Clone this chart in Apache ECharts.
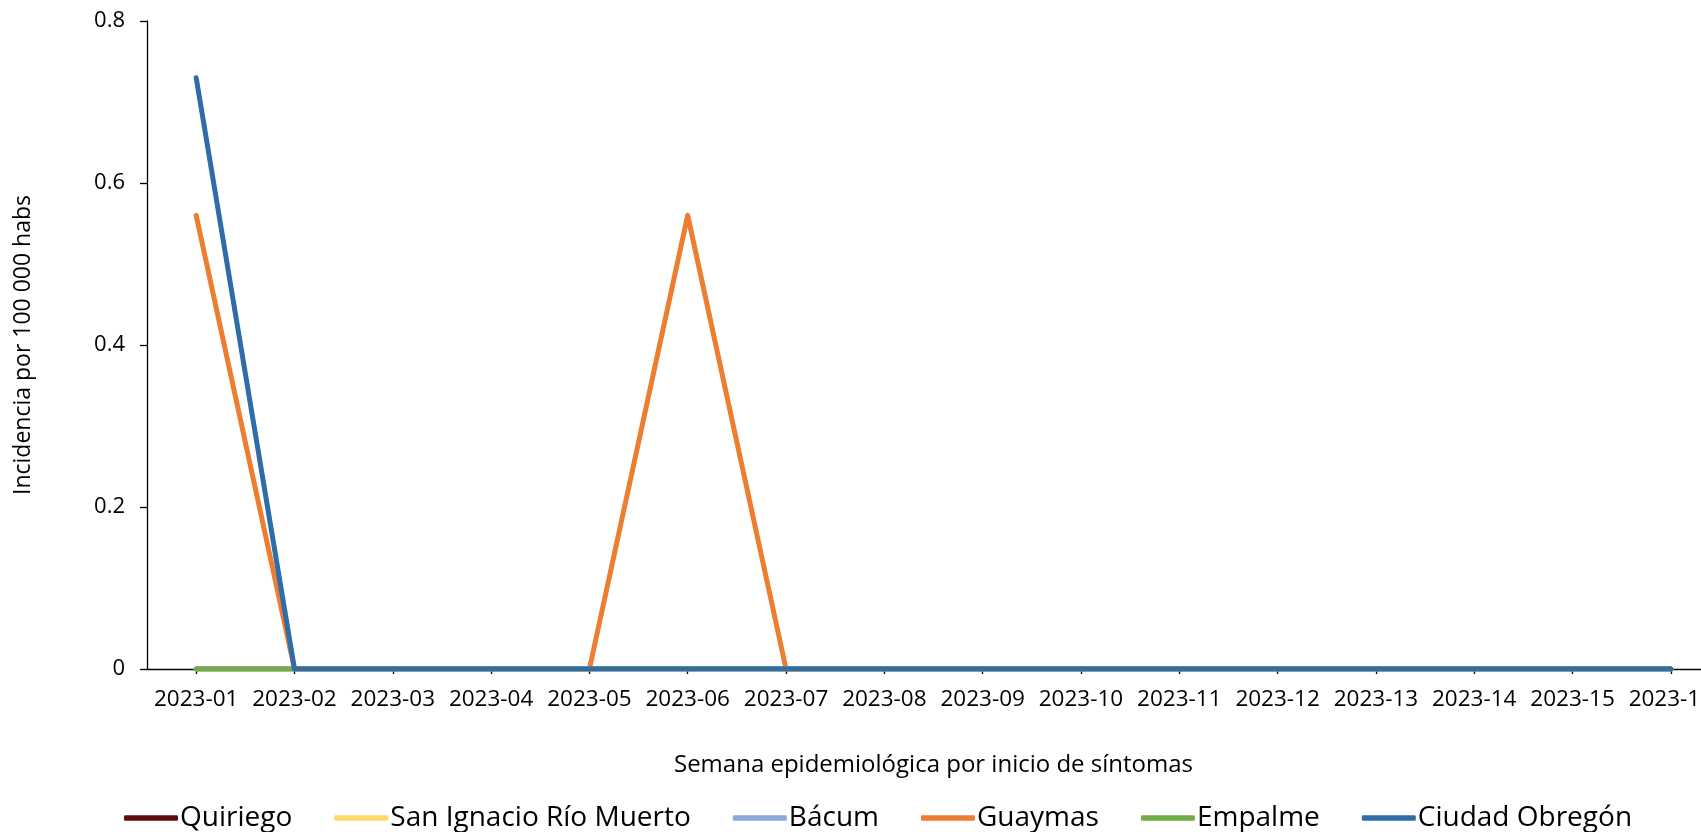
<!DOCTYPE html>
<html>
<head>
<meta charset="utf-8">
<script src="https://cdn.jsdelivr.net/npm/echarts@6/dist/echarts.min.js"></script>
<style>
  html, body { margin: 0; padding: 0; background: #fff; }
  #chart { width: 1701px; height: 832px; }
</style>
</head>
<body>
<div id="chart"></div>
<script>
// semanas epidemiológicas
const weeks = ['2023-01', '2023-02', '2023-03', '2023-04', '2023-05', '2023-06', '2023-07', '2023-08',
  '2023-09', '2023-10', '2023-11', '2023-12', '2023-13', '2023-14', '2023-15', '2023-16'];

// incidencia por municipio
const quiriego       = [0, 0, 0, 0, 0, 0, 0, 0, 0, 0, 0, 0, 0, 0, 0, 0];
const sanIgnacio     = [0, 0, 0, 0, 0, 0, 0, 0, 0, 0, 0, 0, 0, 0, 0, 0];
const bacum          = [0, 0, 0, 0, 0, 0, 0, 0, 0, 0, 0, 0, 0, 0, 0, 0];
const guaymas        = [0.56, 0, 0, 0, 0, 0.56, 0, 0, 0, 0, 0, 0, 0, 0, 0, 0];
const empalme        = [0, 0, 0, 0, 0, 0, 0, 0, 0, 0, 0, 0, 0, 0, 0, 0];
const ciudadObregon  = [0.73, 0, 0, 0, 0, 0, 0, 0, 0, 0, 0, 0, 0, 0, 0, 0];

const yTicks = [0, 0.2, 0.4, 0.6, 0.8];

const FONT = '"Open Sans", sans-serif';

const chart = echarts.init(document.getElementById('chart'));

const mkLine = (name, data, color) => ({
  name: name,
  type: 'line',
  data: data,
  symbol: 'none',
  showSymbol: false,
  smooth: false,
  lineStyle: { color: color, width: 5, cap: 'round', join: 'round' },
  itemStyle: { color: color },
  emphasis: { disabled: true }
});

chart.setOption({
  animation: false,
  textStyle: { fontFamily: FONT, color: '#000' },
  // el área de trazado sigue más allá del borde derecho (como en el original)
  grid: { left: 147, width: 1573, top: 21, bottom: 163, containLabel: false, outerBoundsMode: 'none' },
  legend: {
    left: 119,
    top: 799,
    icon: 'roundRect',
    itemWidth: 54,
    itemHeight: 5.5,
    itemGap: 42,
    textStyle: { fontFamily: FONT, fontSize: 28, color: '#000', padding: [0, 0, 0, -3] },
    data: ['Quiriego', 'San Ignacio Río Muerto', 'Bácum', 'Guaymas', 'Empalme', 'Ciudad Obregón']
  },
  xAxis: {
    type: 'category',
    data: weeks,
    boundaryGap: true,
    name: 'Semana epidemiológica por inicio de síntomas',
    nameLocation: 'middle',
    nameGap: 84,
    nameTextStyle: { fontFamily: FONT, fontSize: 24, color: '#000' },
    axisLine: { show: true, lineStyle: { color: '#000', width: 1.3 } },
    axisTick: { show: true, alignWithLabel: true, length: 5, lineStyle: { color: '#000', width: 1.3 } },
    axisLabel: { fontFamily: FONT, fontSize: 22.5, color: '#000', margin: 19, interval: 0 },
    splitLine: { show: false }
  },
  yAxis: {
    type: 'value',
    min: yTicks[0],
    max: yTicks[yTicks.length - 1],
    interval: 0.2,
    name: 'Incidencia por 100 000 habs',
    nameLocation: 'middle',
    nameGap: 112,
    nameRotate: 90,
    nameTextStyle: { fontFamily: FONT, fontSize: 23, color: '#000' },
    axisLine: { show: true, lineStyle: { color: '#000', width: 1.3 } },
    axisTick: { show: true, length: 7, lineStyle: { color: '#000', width: 1.3 } },
    axisLabel: { fontFamily: FONT, fontSize: 22, color: '#000', margin: 22 },
    splitLine: { show: false }
  },
  series: [
    mkLine('Quiriego', quiriego, '#5E0B0B'),
    mkLine('San Ignacio Río Muerto', sanIgnacio, '#FFD966'),
    mkLine('Bácum', bacum, '#8EA9DB'),
    mkLine('Guaymas', guaymas, '#ED7D31'),
    mkLine('Empalme', empalme, '#70AD47'),
    mkLine('Ciudad Obregón', ciudadObregon, '#2E6DA8')
  ]
});

window.addEventListener('resize', () => chart.resize());
</script>
</body>
</html>
